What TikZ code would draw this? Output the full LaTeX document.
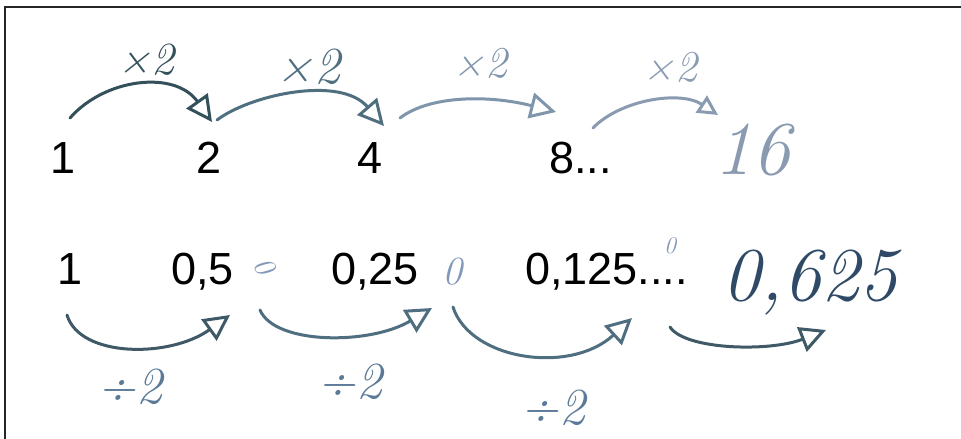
\documentclass[tikz,border=0pt]{standalone}
\usepackage{fontspec}
\newfontfamily\printed{Liberation Sans}
\usetikzlibrary{arrows.meta}
\definecolor{inkA}{HTML}{34505A}
\definecolor{inkB}{HTML}{4F6E80}
\definecolor{inkC}{HTML}{7F95AB}
\definecolor{inkD}{HTML}{8A9AB0}
\definecolor{inkE}{HTML}{3F5A66}
\definecolor{inkF}{HTML}{5A7A98}
\definecolor{inkG}{HTML}{2F4A66}
\definecolor{inkH}{HTML}{8298B8}
\begin{document}
\begin{tikzpicture}[x=1pt,y=-1pt,
  num/.style={font=\printed\fontsize{45}{48}\selectfont, inner sep=0pt, anchor=base west, text=black},
  hw/.style={font=\itshape\fontsize{#1}{#1}\selectfont, inner sep=0pt},
  hw/.default=48,
  pen/.style={line width=3pt, line cap=round, line join=round},
  head/.style={-{Triangle[open,length=#1,width=#1]}},
  head/.default=26pt]
\useasboundingbox (0,0) rectangle (961,439);
% frame
\draw[line width=2pt, black!85] (961,7) -- (5,7) -- (5,439);

% printed numbers, top row
\node[num] (t1) at (50,173) {1};
\node[num] (t2) at (196,173) {2};
\node[num] (t4) at (357,173) {4};
\node[num] (t8) at (549,173) {8...};
% handwritten 16
\node[hw=76, text=inkD] (t16) at (752,150) {16};

% printed numbers, bottom row
\node[num] (b1) at (57,284) {1};
\node[num] (b05) at (171,284) {0,5};
\node[num] (b025) at (331,284) {0,25};
\node[num] (b0125) at (525,284) {0,125....};
\node[hw=76, text=inkG, anchor=base west] (b00625) at (722,300) {0,625};

% handwritten small zeros
\node[hw=30, text=inkH, rotate=-60] (z1) at (265,266) {0};
\node[hw=40, text=inkH] (z2) at (452,272) {0};
\node[hw=24, text=inkH] (z3) at (670,246) {0};

% top arcs
\coordinate (a1s) at (70,118);  \coordinate (a1e) at (212,122);
\coordinate (a2s) at (217,120); \coordinate (a2e) at (384,126);
\coordinate (a3s) at (400,118); \coordinate (a3e) at (556,112);
\coordinate (a4s) at (593,128); \coordinate (a4e) at (718,115);
\draw[pen, head, draw=inkA] (a1s) .. controls (105,78) and (175,70) .. (a1e);
\draw[pen, head, draw=inkB] (a2s) .. controls (250,95) and (340,75) .. (a2e);
\draw[pen, head, draw=inkC] (a3s) .. controls (430,95) and (490,95) .. (a3e);
\draw[pen, head=20pt, draw=inkD] (a4s) .. controls (620,100) and (680,90) .. (a4e);

\node[hw=46, text=inkA] (m1) at (146,60) {×2};
\node[hw=52, text=inkB] (m2) at (308,67) {×2};
\node[hw=44, text=inkC] (m3) at (480,63) {×2};
\node[hw=44, text=inkD] (m4) at (670,67) {×2};

% bottom arcs
\coordinate (c1s) at (67,315);  \coordinate (c1e) at (230,315);
\coordinate (c2s) at (260,310); \coordinate (c2e) at (432,308);
\coordinate (c3s) at (453,307); \coordinate (c3e) at (632,318);
\coordinate (c4s) at (670,327); \coordinate (c4e) at (826,330);
\draw[pen, head, draw=inkE] (c1s) .. controls (80,358) and (170,358) .. (c1e);
\draw[pen, head, draw=inkB] (c2s) .. controls (275,345) and (370,345) .. (c2e);
\draw[pen, head, draw=inkB] (c3s) .. controls (470,360) and (570,375) .. (c3e);
\draw[pen, head, draw=inkE] (c4s) .. controls (685,350) and (770,352) .. (c4e);

\node[hw=52, text=inkF] (d1) at (130,387) {÷2};
\node[hw=52, text=inkF] (d2) at (350,382) {÷2};
\node[hw=52, text=inkF] (d3) at (553,408) {÷2};
\end{tikzpicture}
\end{document}
